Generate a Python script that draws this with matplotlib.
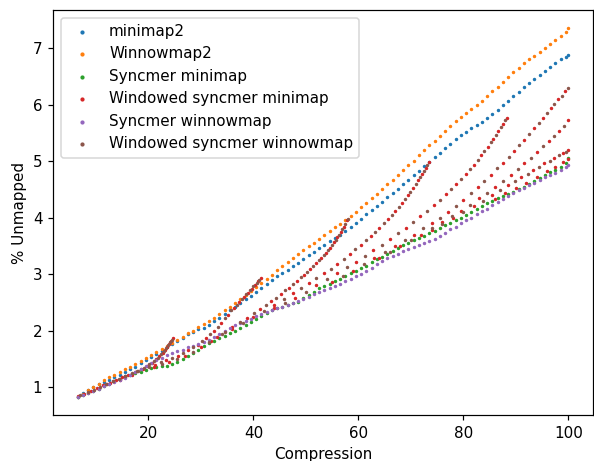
import matplotlib
matplotlib.use("Agg")
import matplotlib.pyplot as plt

# ---------------- data ----------------
compression = [6.5, 7.5, 8.5, 9.5, 10.5, 11.5, 12.5, 13.5, 14.5, 15.5, 16.5, 17.5, 18.5, 19.5,
               20.5, 21.5, 22.5, 23.5, 24.5, 25.5, 26.5, 27.5, 28.5, 29.5, 30.5, 31.5, 32.5, 33.5,
               34.5, 35.5, 36.5, 37.5, 38.5, 39.5, 40.5, 41.5, 42.5, 43.5, 44.5, 45.5, 46.5, 47.5,
               48.5, 49.5, 50.5, 51.5, 52.5, 53.5, 54.5, 55.5, 56.5, 57.5, 58.5, 59.5, 60.5, 61.5,
               62.5, 63.5, 64.5, 65.5, 66.5, 67.5, 68.5, 69.5, 70.5, 71.5, 72.5, 73.5, 74.5, 75.5,
               76.5, 77.5, 78.5, 79.5, 80.5, 81.5, 82.5, 83.5, 84.5, 85.5, 86.5, 87.5, 88.5, 89.5,
               90.5, 91.5, 92.5, 93.5, 94.5, 95.5, 96.5, 97.5, 98.5, 99.5, 100.0]

minimap2 = [0.83, 0.89, 0.94, 1.00, 1.05, 1.09, 1.13, 1.17, 1.21, 1.26, 1.31, 1.36, 1.42, 1.47,
            1.53, 1.58, 1.64, 1.70, 1.76, 1.81, 1.87, 1.93, 1.98, 2.02, 2.05, 2.10, 2.16, 2.23,
            2.29, 2.36, 2.42, 2.49, 2.55, 2.61, 2.68, 2.75, 2.82, 2.89, 2.96, 3.02, 3.08, 3.14,
            3.20, 3.27, 3.33, 3.39, 3.46, 3.52, 3.58, 3.64, 3.70, 3.77, 3.84, 3.91, 3.98, 4.06,
            4.13, 4.21, 4.28, 4.36, 4.44, 4.51, 4.59, 4.67, 4.75, 4.83, 4.91, 4.99, 5.07, 5.15,
            5.23, 5.31, 5.39, 5.46, 5.52, 5.58, 5.64, 5.70, 5.76, 5.83, 5.91, 5.99, 6.07, 6.15,
            6.23, 6.31, 6.39, 6.46, 6.53, 6.60, 6.67, 6.74, 6.80, 6.85, 6.88]

winnowmap2 = [0.83, 0.88, 0.94, 1.00, 1.06, 1.12, 1.17, 1.22, 1.27, 1.32, 1.36, 1.41, 1.46, 1.52,
              1.57, 1.62, 1.67, 1.73, 1.78, 1.84, 1.89, 1.95, 2.00, 2.06, 2.11, 2.17, 2.23, 2.29,
              2.36, 2.42, 2.49, 2.56, 2.63, 2.70, 2.77, 2.84, 2.92, 2.99, 3.07, 3.14, 3.21, 3.28,
              3.35, 3.42, 3.49, 3.55, 3.62, 3.69, 3.76, 3.83, 3.89, 3.95, 4.02, 4.10, 4.18, 4.26,
              4.34, 4.42, 4.50, 4.59, 4.67, 4.76, 4.84, 4.93, 5.01, 5.10, 5.19, 5.28, 5.36, 5.45,
              5.54, 5.62, 5.71, 5.79, 5.86, 5.93, 5.99, 6.07, 6.15, 6.24, 6.32, 6.40, 6.49, 6.57,
              6.65, 6.73, 6.80, 6.87, 6.94, 7.01, 7.08, 7.15, 7.22, 7.29, 7.35]

syncmer_minimap = [0.83, 0.86, 0.90, 0.93, 0.97, 1.01, 1.05, 1.10, 1.14, 1.18, 1.21, 1.24, 1.27, 1.30,
                   1.33, 1.36, 1.37, 1.37, 1.40, 1.44, 1.50, 1.55, 1.60, 1.66, 1.73, 1.78, 1.82, 1.87,
                   1.91, 1.96, 2.00, 2.05, 2.10, 2.15, 2.21, 2.26, 2.31, 2.36, 2.39, 2.42, 2.45, 2.48,
                   2.51, 2.57, 2.63, 2.69, 2.75, 2.79, 2.83, 2.87, 2.91, 2.96, 3.01, 3.06, 3.10, 3.15,
                   3.21, 3.26, 3.31, 3.36, 3.41, 3.46, 3.51, 3.55, 3.60, 3.64, 3.68, 3.72, 3.77, 3.81,
                   3.86, 3.90, 3.95, 3.99, 4.04, 4.09, 4.15, 4.20, 4.25, 4.30, 4.34, 4.38, 4.42, 4.46,
                   4.51, 4.55, 4.60, 4.65, 4.70, 4.75, 4.80, 4.85, 4.90, 4.97, 5.05]

syncmer_winnowmap = [0.83, 0.86, 0.90, 0.93, 0.97, 1.01, 1.05, 1.09, 1.12, 1.16, 1.21, 1.26, 1.31, 1.37,
                     1.43, 1.48, 1.52, 1.56, 1.60, 1.63, 1.66, 1.70, 1.73, 1.77, 1.80, 1.84, 1.89, 1.94,
                     2.00, 2.05, 2.09, 2.13, 2.17, 2.21, 2.25, 2.29, 2.32, 2.36, 2.39, 2.42, 2.45, 2.48,
                     2.52, 2.56, 2.60, 2.64, 2.68, 2.71, 2.75, 2.79, 2.83, 2.88, 2.92, 2.96, 3.00, 3.05,
                     3.11, 3.17, 3.23, 3.28, 3.32, 3.36, 3.40, 3.44, 3.48, 3.51, 3.55, 3.59, 3.62, 3.67,
                     3.73, 3.79, 3.84, 3.90, 3.95, 4.00, 4.06, 4.11, 4.16, 4.22, 4.27, 4.33, 4.38, 4.43,
                     4.48, 4.53, 4.57, 4.62, 4.66, 4.71, 4.75, 4.79, 4.84, 4.90, 4.93]

# windowed syncmer minimap (red), one list pair per branch
wsm_b1_x = [6.6, 7.8, 9.0, 10.2, 11.4, 12.6, 13.8, 15.0, 16.2, 17.4, 18.6, 19.7, 20.6, 21.4, 22.1, 22.7, 23.2, 23.6, 24.0, 24.3, 24.6]
wsm_b1_y = [0.84, 0.88, 0.93, 0.98, 1.03, 1.07, 1.12, 1.17, 1.21, 1.26, 1.31, 1.37, 1.43, 1.49, 1.55, 1.61, 1.66, 1.71, 1.76, 1.81, 1.87]
wsm_b2_x = [12.2, 14.5, 16.8, 19.0, 21.2, 23.4, 25.6, 27.6, 29.4, 31.0, 32.5, 33.9, 35.2, 36.3, 37.3, 38.2, 39.0, 39.7, 40.3, 40.9, 41.4]
wsm_b2_y = [1.05, 1.13, 1.22, 1.31, 1.39, 1.47, 1.55, 1.65, 1.75, 1.86, 1.99, 2.13, 2.28, 2.40, 2.50, 2.59, 2.67, 2.74, 2.81, 2.87, 2.93]
wsm_b3_x = [21.0, 24.0, 27.0, 30.0, 33.0, 36.0, 38.8, 41.3, 43.4, 45.2, 46.8, 48.3, 49.6, 50.8, 51.9, 52.9, 53.8, 54.6, 55.3, 56.0, 56.6, 57.2, 57.8]
wsm_b3_y = [1.36, 1.44, 1.55, 1.70, 1.88, 2.07, 2.23, 2.38, 2.52, 2.64, 2.76, 2.88, 2.99, 3.09, 3.19, 3.29, 3.38, 3.47, 3.56, 3.65, 3.74, 3.84, 3.95]
wsm_b4_x = [32.0, 36.0, 40.0, 44.0, 47.5, 50.5, 53.5, 56.0, 58.3, 60.4, 62.3, 64.0, 65.6, 67.0, 68.3, 69.4, 70.4, 71.3, 72.1, 72.8, 73.4]
wsm_b4_y = [1.82, 2.03, 2.24, 2.46, 2.66, 2.84, 3.02, 3.17, 3.35, 3.52, 3.68, 3.82, 3.98, 4.12, 4.26, 4.40, 4.53, 4.66, 4.78, 4.88, 4.98]
wsm_b5_x = [44.0, 48.0, 52.0, 56.0, 59.5, 62.8, 66.0, 69.0, 71.8, 74.3, 76.6, 78.6, 80.4, 82.0, 83.4, 84.6, 85.7, 86.6, 87.5, 88.3]
wsm_b5_y = [2.40, 2.58, 2.80, 3.02, 3.22, 3.42, 3.62, 3.82, 4.02, 4.22, 4.42, 4.60, 4.77, 4.94, 5.10, 5.25, 5.40, 5.54, 5.66, 5.76]
wsm_b6_x = [55.0, 59.0, 63.0, 67.0, 70.5, 74.0, 77.0, 80.0, 82.7, 85.2, 87.5, 89.6, 91.6, 93.4, 95.1, 96.6, 98.0, 99.3]
wsm_b6_y = [2.86, 3.06, 3.28, 3.50, 3.70, 3.90, 4.10, 4.32, 4.54, 4.76, 4.97, 5.18, 5.38, 5.58, 5.77, 5.94, 6.10, 6.25]
wsm_b7_x = [64.0, 68.0, 72.0, 76.0, 79.5, 83.0, 86.0, 89.0, 91.6, 94.0, 96.2, 98.2, 100.0]
wsm_b7_y = [3.28, 3.50, 3.70, 3.92, 4.12, 4.34, 4.54, 4.75, 4.96, 5.16, 5.36, 5.54, 5.72]
wsm_b8_x = [74.0, 78.0, 82.0, 85.5, 88.5, 91.0, 93.3, 95.4, 97.3, 99.0, 100.0]
wsm_b8_y = [3.78, 3.99, 4.20, 4.40, 4.58, 4.72, 4.85, 4.96, 5.06, 5.14, 5.20]
wsm_b9_x = [86.0, 88.0, 90.0, 92.0, 94.0, 96.0, 97.5, 99.0, 100.0]
wsm_b9_y = [4.33, 4.43, 4.52, 4.62, 4.72, 4.82, 4.90, 4.98, 5.03]

# windowed syncmer winnowmap (brown), one list pair per branch
wsw_b1_x = [7.0, 8.4, 9.6, 10.8, 12.0, 13.2, 14.4, 15.6, 16.8, 18.0, 19.2, 20.2, 21.0, 21.8, 22.4, 23.0, 23.4, 23.8, 24.1, 24.4]
wsw_b1_y = [0.86, 0.91, 0.95, 1.00, 1.05, 1.10, 1.14, 1.19, 1.24, 1.29, 1.34, 1.41, 1.46, 1.52, 1.58, 1.64, 1.69, 1.74, 1.79, 1.84]
wsw_b2_x = [13.3, 15.6, 17.9, 20.1, 22.3, 24.5, 26.6, 28.5, 30.2, 31.8, 33.2, 34.6, 35.8, 36.8, 37.8, 38.6, 39.4, 40.0, 40.6, 41.1]
wsw_b2_y = [1.10, 1.19, 1.28, 1.36, 1.45, 1.52, 1.61, 1.71, 1.82, 1.94, 2.07, 2.22, 2.36, 2.46, 2.56, 2.64, 2.72, 2.78, 2.85, 2.90]
wsw_b3_x = [22.5, 25.5, 28.5, 31.5, 34.5, 37.4, 40.1, 42.4, 44.3, 46.0, 47.6, 49.0, 50.2, 51.4, 52.4, 53.4, 54.2, 55.0, 55.7, 56.3, 56.9, 57.5, 58.0]
wsw_b3_y = [1.40, 1.49, 1.62, 1.79, 1.98, 2.15, 2.31, 2.45, 2.58, 2.71, 2.82, 2.94, 3.04, 3.14, 3.24, 3.34, 3.42, 3.52, 3.61, 3.70, 3.79, 3.89, 3.97]
wsw_b4_x = [34.0, 38.0, 42.0, 45.8, 49.0, 52.0, 54.8, 57.2, 59.4, 61.4, 63.2, 64.8, 66.3, 67.7, 68.9, 69.9, 70.9, 71.7, 72.5, 73.1]
wsw_b4_y = [1.93, 2.14, 2.35, 2.56, 2.75, 2.93, 3.09, 3.26, 3.44, 3.60, 3.75, 3.90, 4.05, 4.19, 4.33, 4.46, 4.60, 4.72, 4.83, 4.93]
wsw_b5_x = [46.0, 50.0, 54.0, 57.8, 61.2, 64.4, 67.5, 70.4, 73.1, 75.5, 77.6, 79.5, 81.2, 82.7, 84.0, 85.2, 86.2, 87.1, 87.9]
wsw_b5_y = [2.49, 2.69, 2.91, 3.12, 3.32, 3.52, 3.72, 3.92, 4.12, 4.32, 4.51, 4.69, 4.86, 5.02, 5.18, 5.33, 5.47, 5.60, 5.72]
wsw_b6_x = [57.0, 61.0, 65.0, 68.8, 72.3, 75.5, 78.5, 81.4, 84.0, 86.4, 88.6, 90.6, 92.5, 94.3, 95.9, 97.3, 98.7, 100.0]
wsw_b6_y = [2.97, 3.17, 3.39, 3.61, 3.81, 4.00, 4.21, 4.43, 4.65, 4.87, 5.08, 5.28, 5.48, 5.68, 5.86, 6.02, 6.16, 6.29]
wsw_b7_x = [66.0, 70.0, 74.0, 77.8, 81.2, 84.5, 87.5, 90.3, 92.8, 95.1, 97.2, 99.1]
wsw_b7_y = [3.39, 3.60, 3.81, 4.02, 4.23, 4.44, 4.65, 4.86, 5.06, 5.26, 5.45, 5.63]
wsw_b8_x = [76.0, 80.0, 83.8, 87.0, 89.8, 92.2, 94.4, 96.4, 98.2, 99.6]
wsw_b8_y = [3.88, 4.10, 4.30, 4.49, 4.65, 4.78, 4.90, 5.01, 5.10, 5.17]

wsm_x = sum([wsm_b1_x, wsm_b2_x, wsm_b3_x, wsm_b4_x, wsm_b5_x, wsm_b6_x, wsm_b7_x, wsm_b8_x, wsm_b9_x], [])
wsm_y = sum([wsm_b1_y, wsm_b2_y, wsm_b3_y, wsm_b4_y, wsm_b5_y, wsm_b6_y, wsm_b7_y, wsm_b8_y, wsm_b9_y], [])
wsw_x = sum([wsw_b1_x, wsw_b2_x, wsw_b3_x, wsw_b4_x, wsw_b5_x, wsw_b6_x, wsw_b7_x, wsw_b8_x], [])
wsw_y = sum([wsw_b1_y, wsw_b2_y, wsw_b3_y, wsw_b4_y, wsw_b5_y, wsw_b6_y, wsw_b7_y, wsw_b8_y], [])

# ---------------- plot ----------------
DPI = 109
fig = plt.figure(figsize=(594 / DPI, 461 / DPI), dpi=DPI)
ax = fig.add_axes([53 / 594, 46 / 461, 540 / 594, 405 / 461])

S = 1.6
ax.scatter(compression, minimap2, s=S, color="C0", label="minimap2")
ax.scatter(compression, winnowmap2, s=S, color="C1", label="Winnowmap2")
ax.scatter(compression, syncmer_minimap, s=S, color="C2", label="Syncmer minimap")
ax.scatter(wsm_x, wsm_y, s=S, color="C3", label="Windowed syncmer minimap")
ax.scatter(compression, syncmer_winnowmap, s=S, color="C4", label="Syncmer winnowmap")
ax.scatter(wsw_x, wsw_y, s=S, color="C5", label="Windowed syncmer winnowmap")

ax.set_xlabel("Compression")
ax.set_ylabel("% Unmapped")
ax.legend(loc="upper left", markerscale=1.4)

fig.savefig("out.png", dpi=DPI)
